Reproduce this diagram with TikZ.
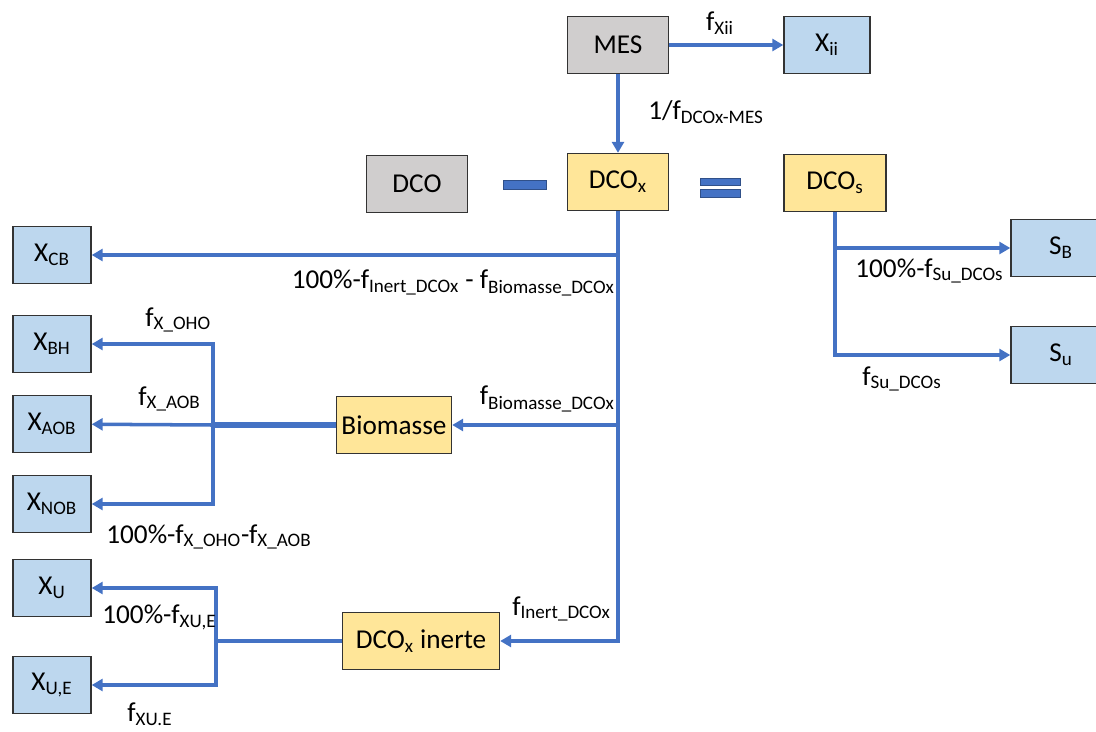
\documentclass[tikz,border=0pt]{standalone}
\usepackage{fontspec}
\setmainfont{Carlito}
\usepackage{xcolor}
\usetikzlibrary{arrows.meta}
\definecolor{flowblue}{HTML}{4472C4}
\definecolor{boxgray}{HTML}{D0CECE}
\definecolor{boxyellow}{HTML}{FFE699}
\definecolor{boxblue}{HTML}{BDD7EE}

\begin{document}
\begin{tikzpicture}[x=0.02cm, y=-0.02cm, >={Triangle[length=2.2mm,width=2.4mm]},
  every node/.style={font=\fontsize{15.5}{18}\selectfont},
  box/.style={draw=black!80, line width=0.8pt, minimum height=1.14cm, inner sep=0pt},
  flow/.style={draw=flowblue, line width=2pt},
  lbl/.style={inner sep=0pt}]
  \useasboundingbox (0,0) rectangle (1096,731);
  \clip (0,0) rectangle (1096,731);
  % top row
  \node[box, fill=boxgray, minimum width=2.02cm] (mes) at (618,45) {MES};
  \node[box, fill=boxblue, minimum width=1.72cm] (xii) at (827,45) {X\textsubscript{ii}};
  \node[box, fill=boxgray, minimum width=2.02cm] (dco) at (417,184) {DCO};
  \node[box, fill=boxyellow, minimum width=2.02cm] (dcox) at (618,182) {DCO\textsubscript{x}};
  \node[box, fill=boxyellow, minimum width=2.04cm] (dcos) at (835,183) {DCO\textsubscript{s}};
  \node[box, fill=boxblue, minimum width=2cm] (sb) at (1061,248) {S\textsubscript{B}};
  \node[box, fill=boxblue, minimum width=2cm] (su) at (1061,355) {S\textsubscript{u}};
  % left column
  \node[box, fill=boxblue, minimum width=1.56cm] (xcb) at (52,255) {X\textsubscript{CB}};
  \node[box, fill=boxblue, minimum width=1.56cm] (xbh) at (52,344) {X\textsubscript{BH}};
  \node[box, fill=boxblue, minimum width=1.56cm] (xaob) at (52,424) {X\textsubscript{AOB}};
  \node[box, fill=boxblue, minimum width=1.56cm] (xnob) at (52,504) {X\textsubscript{NOB}};
  \node[box, fill=boxblue, minimum width=1.56cm] (xu) at (52,588) {X\textsubscript{U}};
  \node[box, fill=boxblue, minimum width=1.56cm] (xue) at (52,685) {X\textsubscript{U,E}};
  \node[box, fill=boxyellow, minimum width=2.3cm] (bio) at (394,425) {Biomasse};
  \node[box, fill=boxyellow, minimum width=3.14cm] (inert) at (421,641) {DCO\textsubscript{x} inerte};
  % operators
  \fill[flowblue, draw=flowblue!70!black, line width=0.4pt] (503,180) rectangle (546,189);
  \fill[flowblue, draw=flowblue!70!black, line width=0.4pt] (700,178) rectangle (740,185);
  \fill[flowblue, draw=flowblue!70!black, line width=0.4pt] (700,189) rectangle (740,197);
  % connectors
  \draw[flow, ->] (mes) -- (xii);
  \draw[flow, ->] (mes) -- (dcox);
  \draw[flow, ->] (dcox.south) |- (xcb);
  \draw[flow, ->] (dcox.south) |- (bio);
  \draw[flow, ->] (dcox.south) |- (inert);
  \coordinate (bsplit) at (213,425);
  \draw[flow, line width=3pt] (bio) -- (bsplit);
  \draw[flow, ->] (bsplit) |- (xbh);
  \draw[flow, ->] (bsplit) -- (xaob);
  \draw[flow, ->] (bsplit) |- (xnob);
  \coordinate (isplit) at (216,641);
  \draw[flow] (inert) -- (isplit);
  \draw[flow, ->] (isplit) |- (xu);
  \draw[flow, ->] (isplit) |- (xue);
  \draw[flow, ->] (dcos.south) |- (sb);
  \draw[flow, ->] (dcos.south) |- (su);
  % labels
  \node[lbl] (lxii) at (720,23) {f\textsubscript{Xii}};
  \node[lbl, anchor=west] (lmes) at (648,112) {1/f\textsubscript{DCOx-MES}};
  \node[lbl, anchor=east] (lcb) at (615,283) {100\%-f\textsubscript{Inert\_DCOx} - f\textsubscript{Biomasse\_DCOx}};
  \node[lbl, anchor=west] (loho) at (145,320) {f\textsubscript{X\_OHO}};
  \node[lbl, anchor=west] (laob) at (138,399) {f\textsubscript{X\_AOB}};
  \node[lbl, anchor=east] (lbio) at (615,399) {f\textsubscript{Biomasse\_DCOx}};
  \node[lbl, anchor=west] (lnob) at (106,537) {100\%-f\textsubscript{X\_OHO}-f\textsubscript{X\_AOB}};
  \node[lbl, anchor=west] (lxu) at (102,617) {100\%-f\textsubscript{XU,E}};
  \node[lbl, anchor=west] (linert) at (512,609) {f\textsubscript{Inert\_DCOx}};
  \node[lbl, anchor=west] (lxue) at (127,714) {f\textsubscript{XU.E}};
  \node[lbl, anchor=west] (lsb) at (855,271) {100\%-f\textsubscript{Su\_DCOs}};
  \node[lbl, anchor=west] (lsu) at (862,379) {f\textsubscript{Su\_DCOs}};
\end{tikzpicture}
\end{document}
